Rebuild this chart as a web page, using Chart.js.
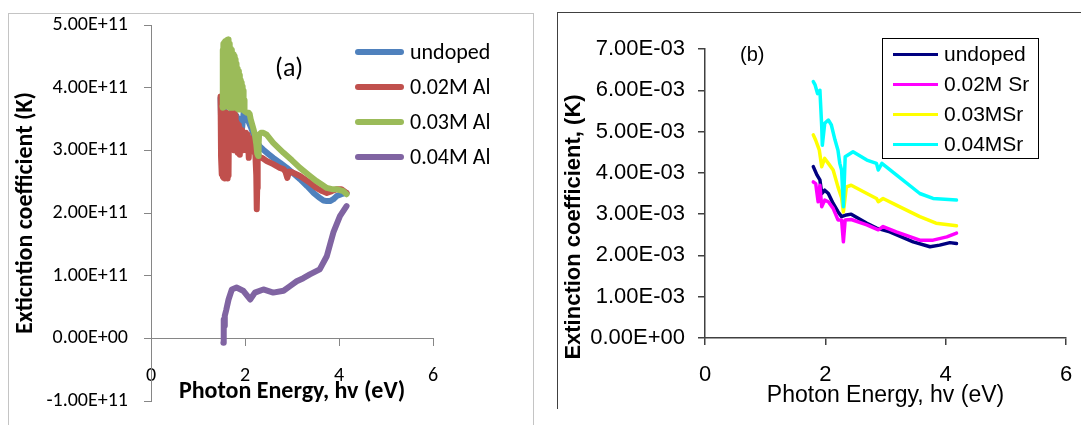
<!DOCTYPE html>
<html>
<head>
<meta charset="utf-8">
<script src="https://cdn.jsdelivr.net/npm/chart.js@4/dist/chart.umd.min.js"></script>
<style>
  body { margin: 0; background: #fff; width: 1081px; height: 425px; overflow: hidden; position: relative; }
  .frameA { position: absolute; left: 8px; top: 13px; width: 524px; height: 420px; border: 1.5px solid #c4c4c4; border-bottom: none; }
  .frameB { position: absolute; left: 557px; top: 12px; width: 540px; height: 396px; border-left: 1.5px solid #404040; border-top: 1.5px solid #404040; }
  canvas { position: absolute; top: 0; }
  #chartA { left: 0; }
  #chartB { left: 540px; }
  .tag { position: absolute; color: #000; }
  #tagA { left: 275px; top: 51px; font: 26px Carlito, Lato, sans-serif; }
  #tagB { left: 740px; top: 43px; font: 20px "Liberation Sans", Arial, sans-serif; }
  #legendA { position: absolute; left: 355px; top: 34px; font: 22px Carlito, Lato, sans-serif; color: #000; }
  #legendA .row { height: 35px; display: flex; align-items: center; }
  #legendA .swatch { width: 49px; height: 6px; margin-right: 6px; border-radius: 3px; }
  #legendB { position: absolute; left: 882px; top: 38px; width: 155px; height: 119px; border: 1.5px solid #000;
             font: 21px "Liberation Sans", Arial, sans-serif; color: #000; }
  #legendB .row { height: 30px; display: flex; align-items: center; }
  #legendB .swatch { width: 45px; height: 3px; margin-left: 10px; margin-right: 6px; }
</style>
</head>
<body>
<div class="frameA"></div>
<div class="frameB"></div>
<canvas id="chartA" width="540" height="425"></canvas>
<canvas id="chartB" width="541" height="425"></canvas>
<div class="tag" id="tagA">(a)</div>
<div class="tag" id="tagB">(b)</div>
<div id="legendA"></div>
<div id="legendB"></div>
<script>
// ---- chart (a): Al doped ----
const labelsAl = ['undoped', '0.02M Al', '0.03M Al', '0.04M Al'];
const colorsAl = ['#4F81BD', '#C0504D', '#9BBB59', '#8064A2'];

// photon energy (eV) and K
const eUndopedA = [1.48, 1.50, 1.52, 1.55, 1.58, 1.62, 1.66, 1.70, 1.73, 1.75, 1.78, 1.82, 1.86, 1.90, 1.94, 1.97, 2.00, 2.04, 2.08, 2.12,
                   2.16, 2.20, 2.24, 2.28, 2.32, 2.39, 2.50, 2.60, 2.75, 2.89, 3.03, 3.17, 3.32, 3.46, 3.57, 3.67, 3.74, 3.81, 3.88, 3.95, 4.05, 4.16];
const kUndopedA = [3.83e11, 3.20e11, 3.60e11, 3.30e11, 3.62e11, 3.35e11, 3.58e11, 3.40e11, 3.70e11, 3.89e11, 3.45e11, 3.55e11, 3.38e11, 3.50e11, 3.36e11, 3.60e11, 3.56e11, 3.52e11, 3.45e11, 3.38e11,
                   3.30e11, 3.22e11, 3.15e11, 3.10e11, 3.06e11, 3.01e11, 2.94e11, 2.88e11, 2.80e11, 2.72e11, 2.63e11, 2.54e11, 2.43e11, 2.32e11, 2.25e11, 2.20e11, 2.19e11, 2.19e11, 2.22e11, 2.27e11, 2.30e11, 2.32e11];

const eAl02 = [1.48, 1.49, 1.50, 1.51, 1.52, 1.53, 1.54, 1.55, 1.56, 1.57, 1.58, 1.59, 1.60, 1.61, 1.62, 1.63, 1.64, 1.65, 1.66, 1.67,
               1.68, 1.69, 1.70, 1.71, 1.72, 1.73, 1.74, 1.75, 1.76, 1.77, 1.78, 1.79, 1.80, 1.81, 1.82, 1.83, 1.84, 1.85, 1.86, 1.87,
               1.88, 1.89, 1.90, 1.92, 1.94, 1.96, 1.98, 2.00, 2.02, 2.04, 2.06, 2.08, 2.10, 2.12, 2.14, 2.16, 2.18, 2.20, 2.22, 2.24,
               2.25, 2.26, 2.27, 2.29, 2.32, 2.36, 2.46, 2.60, 2.74, 2.82, 2.86, 2.90, 2.94, 3.00, 3.17, 3.35, 3.52, 3.64, 3.74, 3.85,
               3.95, 4.05, 4.16];
const kAl02 = [3.86e11, 2.90e11, 3.55e11, 2.62e11, 3.60e11, 2.58e11, 3.58e11, 2.56e11, 3.60e11, 2.55e11, 3.59e11, 2.60e11, 3.60e11, 2.56e11, 3.58e11, 2.55e11, 3.57e11, 2.60e11, 3.56e11, 3.10e11,
               3.55e11, 3.20e11, 3.54e11, 3.05e11, 3.52e11, 3.30e11, 3.80e11, 3.97e11, 3.40e11, 3.00e11, 3.60e11, 3.05e11, 3.55e11, 3.00e11, 3.45e11, 2.98e11, 3.42e11, 2.96e11, 3.40e11, 2.95e11,
               3.35e11, 2.93e11, 3.30e11, 3.05e11, 3.32e11, 3.00e11, 3.25e11, 3.04e11, 3.28e11, 3.00e11, 3.25e11, 2.88e11, 3.20e11, 3.10e11, 3.15e11, 3.04e11, 3.05e11, 2.98e11, 2.93e11, 2.60e11,
               2.06e11, 2.40e11, 2.93e11, 2.92e11, 2.88e11, 2.88e11, 2.83e11, 2.78e11, 2.72e11, 2.70e11, 2.66e11, 2.56e11, 2.66e11, 2.65e11, 2.59e11, 2.50e11, 2.40e11, 2.35e11, 2.32e11, 2.35e11,
               2.38e11, 2.38e11, 2.32e11];

const eAl03 = [1.52, 1.525, 1.53, 1.54, 1.55, 1.56, 1.57, 1.58, 1.59, 1.60, 1.61, 1.62, 1.63, 1.64, 1.65, 1.66, 1.67, 1.68, 1.69, 1.70,
               1.71, 1.72, 1.73, 1.74, 1.75, 1.76, 1.77, 1.78, 1.79, 1.80, 1.81, 1.82, 1.83, 1.84, 1.85, 1.86, 1.87, 1.88, 1.89, 1.90,
               1.91, 1.92, 1.93, 1.94, 1.95, 1.96, 1.97, 1.98, 1.99, 2.00, 2.04, 2.08, 2.10, 2.12, 2.15, 2.18, 2.21, 2.24, 2.26, 2.28,
               2.29, 2.30, 2.34, 2.39, 2.46, 2.60, 2.82, 3.00, 3.17, 3.35, 3.52, 3.64, 3.74, 3.85, 3.95, 4.09, 4.16];
const kAl03 = [3.70e11, 4.60e11, 3.68e11, 4.70e11, 3.72e11, 4.72e11, 3.75e11, 4.74e11, 3.70e11, 4.75e11, 3.75e11, 4.76e11, 3.72e11, 4.77e11, 3.70e11, 4.70e11, 3.68e11, 4.65e11, 3.70e11, 4.62e11,
               3.68e11, 4.60e11, 3.70e11, 4.55e11, 4.53e11, 3.68e11, 4.50e11, 3.70e11, 4.45e11, 4.42e11, 3.70e11, 4.38e11, 3.68e11, 4.30e11, 3.66e11, 4.26e11, 3.65e11, 4.20e11, 3.66e11, 4.12e11,
               3.65e11, 4.08e11, 3.65e11, 4.02e11, 3.66e11, 3.95e11, 3.64e11, 3.80e11, 3.63e11, 3.62e11, 3.60e11, 3.60e11, 3.58e11, 3.50e11, 3.42e11, 3.34e11, 3.25e11, 3.10e11, 2.95e11, 2.91e11,
               3.10e11, 3.25e11, 3.28e11, 3.28e11, 3.25e11, 3.12e11, 2.96e11, 2.84e11, 2.72e11, 2.61e11, 2.51e11, 2.45e11, 2.40e11, 2.38e11, 2.38e11, 2.35e11, 2.30e11];

const eAl04 = [1.54, 1.545, 1.55, 1.56, 1.57, 1.60, 1.65, 1.72, 1.82, 1.96, 2.11, 2.21, 2.39, 2.60, 2.82, 2.95, 3.10, 3.24, 3.38, 3.59, 3.74, 3.88, 4.02, 4.16];
const kAl04 = [-0.07e11, 0.12e11, 0.30e11, 0.20e11, 0.36e11, 0.45e11, 0.62e11, 0.78e11, 0.81e11, 0.76e11, 0.62e11, 0.73e11, 0.78e11, 0.73e11, 0.76e11, 0.83e11, 0.91e11, 0.96e11, 1.02e11, 1.10e11, 1.31e11, 1.69e11, 1.95e11, 2.11e11];

// ---- chart (b): Sr doped ----
const labelsSr = ['undoped', '0.02M Sr', '0.03MSr', '0.04MSr'];
const colorsSr = ['#000080', '#FF00FF', '#FFFF00', '#00FFFF'];

const eUndopedB = [1.80, 1.86, 1.91, 1.94, 1.99, 2.05, 2.13, 2.21, 2.27, 2.35, 2.43, 2.69, 2.85, 3.07, 3.46, 3.74, 3.90, 4.07, 4.18];
const kUndopedB = [4.15e-3, 3.95e-3, 3.83e-3, 3.50e-3, 3.58e-3, 3.50e-3, 3.26e-3, 3.06e-3, 2.94e-3, 2.98e-3, 3.00e-3, 2.78e-3, 2.66e-3, 2.57e-3, 2.33e-3, 2.21e-3, 2.25e-3, 2.31e-3, 2.29e-3];

const eSr02 = [1.80, 1.84, 1.88, 1.91, 1.94, 1.99, 2.05, 2.13, 2.21, 2.27, 2.30, 2.33, 2.43, 2.69, 2.88, 2.96, 3.18, 3.57, 3.79, 4.02, 4.18];
const kSr02 = [3.78e-3, 3.74e-3, 3.30e-3, 3.70e-3, 3.18e-3, 3.34e-3, 3.30e-3, 3.14e-3, 2.86e-3, 2.86e-3, 2.33e-3, 2.86e-3, 2.87e-3, 2.74e-3, 2.62e-3, 2.70e-3, 2.57e-3, 2.37e-3, 2.37e-3, 2.45e-3, 2.54e-3];

const eSr03 = [1.80, 1.84, 1.90, 1.94, 1.99, 2.05, 2.13, 2.21, 2.27, 2.30, 2.35, 2.43, 2.69, 2.85, 2.88, 2.96, 3.18, 3.57, 3.84, 4.18];
const kSr03 = [4.92e-3, 4.79e-3, 4.55e-3, 4.15e-3, 4.35e-3, 4.23e-3, 4.07e-3, 3.66e-3, 3.40e-3, 3.05e-3, 3.66e-3, 3.70e-3, 3.50e-3, 3.38e-3, 3.30e-3, 3.38e-3, 3.22e-3, 2.94e-3, 2.78e-3, 2.72e-3];

const eSr04 = [1.80, 1.83, 1.87, 1.91, 1.94, 1.95, 1.99, 2.05, 2.10, 2.16, 2.21, 2.24, 2.27, 2.30, 2.33, 2.46, 2.69, 2.85, 2.88, 2.94, 3.18, 3.57, 3.79, 4.18];
const kSr04 = [6.21e-3, 6.13e-3, 5.92e-3, 6.00e-3, 5.12e-3, 4.67e-3, 5.20e-3, 5.28e-3, 5.16e-3, 4.80e-3, 4.55e-3, 4.23e-3, 4.07e-3, 3.18e-3, 4.39e-3, 4.51e-3, 4.31e-3, 4.23e-3, 4.07e-3, 4.23e-3, 3.95e-3, 3.50e-3, 3.38e-3, 3.34e-3];

const seriesAl = [[eUndopedA, kUndopedA], [eAl02, kAl02], [eAl03, kAl03], [eAl04, kAl04]];
const seriesSr = [[eUndopedB, kUndopedB], [eSr02, kSr02], [eSr03, kSr03], [eSr04, kSr04]];

// 5.00E+11 style labels like Excel
function sci(v) {
    return v.toExponential(2).toUpperCase().replace(/E([+-])(\d)$/, (m, s, d) => 'E' + s + '0' + d);
}

function makeSets(series, labels, colors, width) {
    return series.map((s, i) => ({
        label: labels[i],
        data: s[0].map((x, j) => ({ x: x, y: s[1][j] })),
        borderColor: colors[i],
        borderWidth: width,
        showLine: true,
        pointRadius: 0,
        tension: 0,
        order: series.length - i   // later series on top, like Excel
    }));
}

function makeLegend(el, labels, colors) {
    el.innerHTML = labels.map((l, i) =>
        '<div class="row"><div class="swatch" style="background:' + colors[i] + '"></div><span>' + l + '</span></div>').join('');
}

// keep tick label padding from pushing the plot area around
function fixY(width) {
    return s => { s.width = width; s.paddingTop = 0; s.paddingBottom = 0; };
}
function fixX(height) {
    return s => { s.height = height; s.paddingLeft = 0; s.paddingRight = 0; };
}

// rotated y title for chart (b), it hangs below the plot like the original
const sideTitle = {
    id: 'sideTitle',
    afterDraw(chart, args, opts) {
        if (!opts.text) return;
        const ctx = chart.ctx;
        ctx.save();
        ctx.translate(opts.x, opts.y);
        ctx.rotate(-Math.PI / 2);
        ctx.font = opts.font;
        ctx.fillStyle = '#000';
        ctx.textAlign = 'center';
        ctx.textBaseline = 'middle';
        ctx.fillText(opts.text, 0, 0);
        ctx.restore();
    }
};

const fontA = 'Carlito, Lato, sans-serif';
const fontB = '"Liberation Sans", Arial, sans-serif';

document.addEventListener('DOMContentLoaded', function () {
    new Chart(document.getElementById('chartA'), {
        type: 'scatter',
        data: { datasets: makeSets(seriesAl, labelsAl, colorsAl, 6) },
        options: {
            responsive: false,
            animation: false,
            layout: { padding: { left: 0, top: 25, right: 107, bottom: 24 } },
            elements: { line: { borderJoinStyle: 'round', borderCapStyle: 'round' } },
            plugins: { legend: { display: false }, tooltip: { enabled: false } },
            scales: {
                x: {
                    type: 'linear',
                    position: { y: 0 },
                    min: 0, max: 6,
                    ticks: { stepSize: 2, color: '#000', padding: 19, font: { family: fontA, size: 20 } },
                    grid: { drawOnChartArea: false, color: '#868686', tickLength: 7 },
                    border: { color: '#868686' },
                    title: { display: true, text: 'Photon Energy, hv (eV)', color: '#000', padding: 0,
                             font: { family: fontA, size: 24, weight: 'bold' } },
                    afterFit: fixX(68)
                },
                y: {
                    min: -1e11, max: 5e11,
                    ticks: { stepSize: 1e11, callback: sci, color: '#000', padding: 16, font: { family: fontA, size: 20 } },
                    grid: { drawOnChartArea: false, color: '#868686', tickLength: 7 },
                    border: { color: '#868686' },
                    title: { display: true, text: 'Exticntion coefficient (K)', color: '#000', padding: { top: 12, bottom: 0 },
                             font: { family: fontA, size: 24, weight: 'bold' } },
                    afterFit: fixY(151)
                }
            }
        }
    });

    new Chart(document.getElementById('chartB'), {
        type: 'scatter',
        data: { datasets: makeSets(seriesSr, labelsSr, colorsSr, 3.5) },
        plugins: [sideTitle],
        options: {
            responsive: false,
            animation: false,
            layout: { padding: { left: 0, top: 49, right: 15, bottom: 16 } },
            elements: { line: { borderJoinStyle: 'round', borderCapStyle: 'round' } },
            plugins: {
                legend: { display: false },
                tooltip: { enabled: false },
                sideTitle: { text: 'Extinction coefficient, (K)', x: 34, y: 227, font: 'bold 22px ' + fontB }
            },
            scales: {
                x: {
                    type: 'linear',
                    min: 0, max: 6,
                    ticks: { stepSize: 2, color: '#000', padding: 17, font: { family: fontB, size: 22 } },
                    grid: { drawOnChartArea: false, color: '#404040', tickLength: 7, lineWidth: 1.5 },
                    border: { color: '#404040', width: 1.5 },
                    title: { display: true, text: 'Photon Energy, hv (eV)', color: '#000', padding: 0,
                             font: { family: fontB, size: 23 } },
                    afterFit: fixX(71)
                },
                y: {
                    min: 0, max: 7e-3,
                    ticks: { stepSize: 1e-3, callback: sci, color: '#000', padding: 13, font: { family: fontB, size: 22 } },
                    grid: { drawOnChartArea: false, color: '#404040', tickLength: 7, lineWidth: 1.5 },
                    border: { color: '#404040', width: 1.5 },
                    afterFit: fixY(165)
                }
            }
        }
    });

    makeLegend(document.getElementById('legendA'), labelsAl, colorsAl);
    makeLegend(document.getElementById('legendB'), labelsSr, colorsSr);
});
</script>
</body>
</html>
